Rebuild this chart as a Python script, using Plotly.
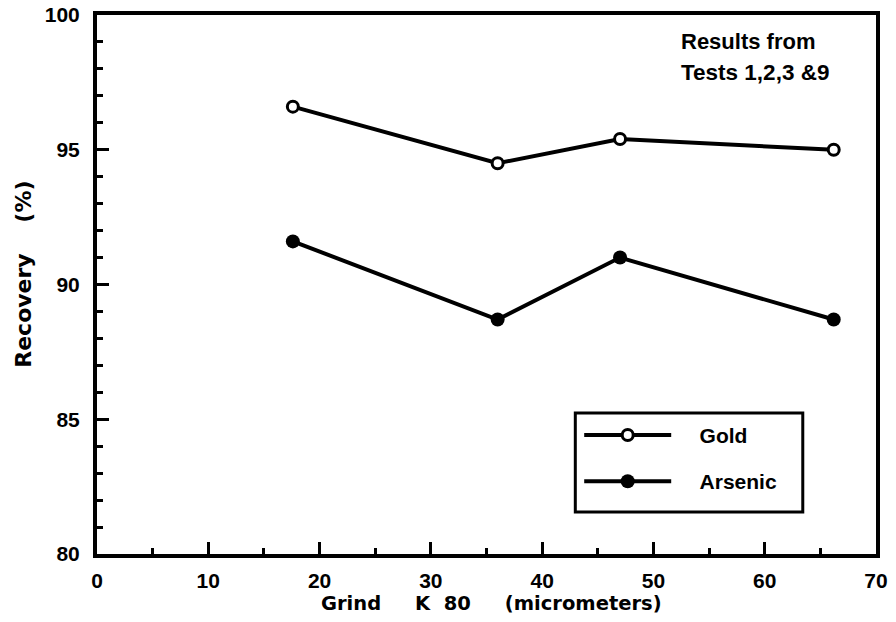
import plotly.graph_objects as go

# Grind size (K80, micrometers) for Tests 1, 2, 3 and 9
grind_k80 = [17.6, 36.0, 47.0, 66.2]
gold_recovery = [96.6, 94.5, 95.4, 95.0]
arsenic_recovery = [91.6, 88.7, 91.0, 88.7]

x_ticks = [0, 10, 20, 30, 40, 50, 60, 70]
y_ticks = [80, 85, 90, 95, 100]

FONT = "Liberation Sans"
TITLE_FONT = "DejaVu Sans"
BLACK = "black"
NB = "\u00a0"

fig = go.Figure()

fig.add_trace(go.Scatter(
    x=grind_k80, y=gold_recovery, name=NB * 4 + "<b>Gold</b>", mode="lines+markers",
    legendgroup="gold",
    line=dict(color=BLACK, width=4),
    marker=dict(symbol="circle", size=11, color="white",
                line=dict(color=BLACK, width=3)),
))
fig.add_trace(go.Scatter(
    x=grind_k80, y=arsenic_recovery, name=NB * 4 + "<b>Arsenic</b>", mode="lines+markers",
    legendgroup="arsenic",
    line=dict(color=BLACK, width=4),
    marker=dict(symbol="circle", size=14, color=BLACK,
                line=dict(color=BLACK, width=0)),
))

# Note in the upper right corner
fig.add_annotation(x=0.747, y=0.950, xref="paper", yref="paper", text="<b>Results from</b>",
                   showarrow=False, xanchor="left", yanchor="middle",
                   font=dict(family=FONT, size=22, color=BLACK))
fig.add_annotation(x=0.747, y=0.894, xref="paper", yref="paper",
                   text="<b>Tests 1,2,3 &9</b>",
                   showarrow=False, xanchor="left", yanchor="middle",
                   font=dict(family=FONT, size=22.5, color=BLACK))

# Axis titles
fig.add_annotation(x=0.507, y=-0.091, xref="paper", yref="paper",
                   text=f"<b>Grind{NB*5}K{NB*2}80{NB*5}(micrometers)</b>",
                   showarrow=False, xanchor="center", yanchor="middle",
                   font=dict(family=TITLE_FONT, size=19.5, color=BLACK))
fig.add_annotation(x=-0.094, y=0.5195, xref="paper", yref="paper",
                   text=f"<b>Recovery{NB*4}(%)</b>", textangle=-90,
                   showarrow=False, xanchor="center", yanchor="middle",
                   font=dict(family=TITLE_FONT, size=22, color=BLACK))

# Frame around the legend
fig.add_shape(type="rect", xref="paper", yref="paper",
              x0=0.614, x1=0.906, y0=0.078, y1=0.2616,
              line=dict(color=BLACK, width=3), fillcolor="rgba(0,0,0,0)")

axis_common = dict(
    showgrid=False, zeroline=False, automargin=False,
    showline=True, linecolor=BLACK, linewidth=4, mirror=True,
    ticks="inside", ticklen=12, tickwidth=3, tickcolor=BLACK,
    tickfont=dict(family=FONT, size=21, color=BLACK),
)

fig.update_xaxes(
    range=[0, 70], tickvals=x_ticks, ticktext=[f"<b>{v}</b>" for v in x_ticks],
    minor=dict(dtick=5, ticks="inside", ticklen=6, tickwidth=3, tickcolor=BLACK),
    ticklabelstandoff=5,
    **axis_common,
)
fig.update_yaxes(
    range=[80, 100], tickvals=y_ticks, ticktext=[f"<b>{v}</b>" for v in y_ticks],
    minor=dict(dtick=1, ticks="inside", ticklen=6, tickwidth=3, tickcolor=BLACK),
    ticklabelstandoff=9,
    **axis_common,
)

fig.update_layout(
    width=896, height=622,
    margin=dict(l=97, r=20, t=15, b=68),
    paper_bgcolor="white", plot_bgcolor="white",
    showlegend=True,
    legend=dict(
        x=0.619, y=0.2583, xanchor="left", yanchor="top",
        borderwidth=0, bgcolor="rgba(0,0,0,0)",
        itemwidth=87, traceorder="grouped", tracegroupgap=16,
        font=dict(family=FONT, size=21, color=BLACK),
    ),
)

fig.write_html("out.html")
